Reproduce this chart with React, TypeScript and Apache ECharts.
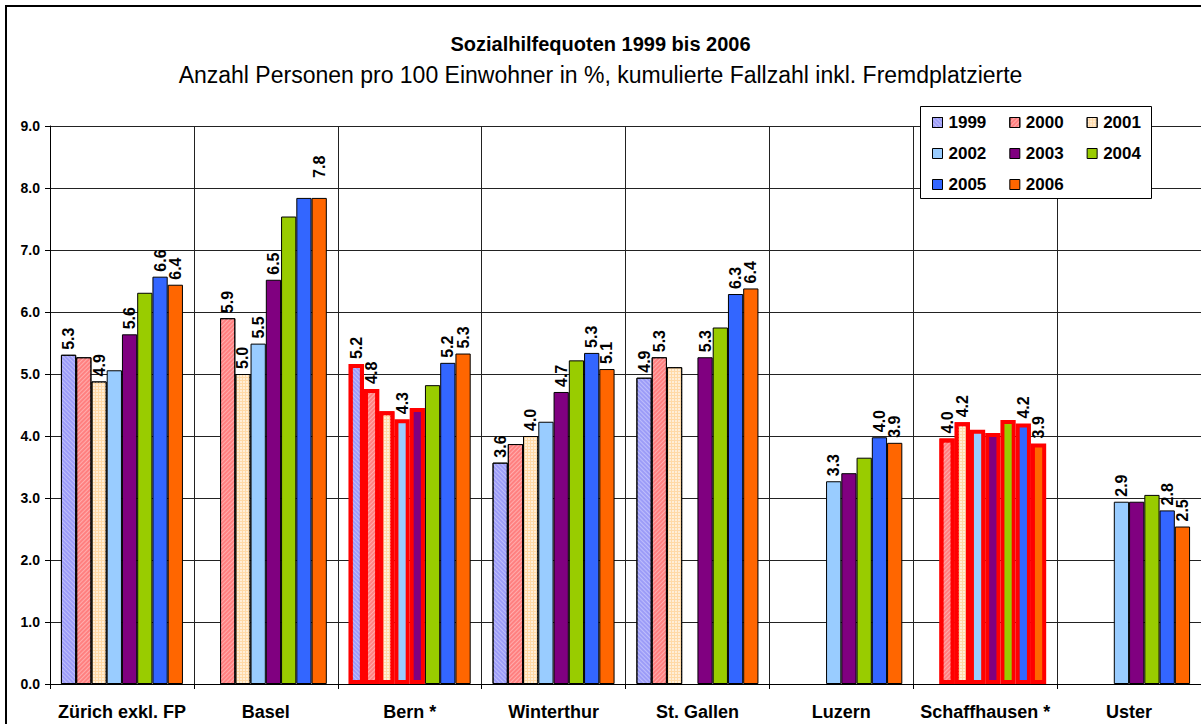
import React, { useEffect, useRef } from "react";
import * as echarts from "echarts";

const categories = ["Zürich exkl. FP", "Basel", "Bern *", "Winterthur", "St. Gallen", "Luzern", "Schaffhausen *", "Uster"];
const years = ["1999", "2000", "2001", "2002", "2003", "2004", "2005", "2006"];

const v1999 = [5.31, null, 5.16, 3.57, 4.94, null, null, null];
const v2000 = [5.27, 5.9, 4.76, 3.87, 5.27, null, 3.96, null];
const v2001 = [4.88, 5.0, 4.4, 4.0, 5.11, null, 4.22, null];
const v2002 = [5.06, 5.49, 4.27, 4.23, null, 3.27, 4.1, 2.94];
const v2003 = [5.64, 6.52, 4.45, 4.71, 5.27, 3.4, 4.05, 2.94];
const v2004 = [6.31, 7.54, 4.82, 5.22, 5.75, 3.65, 4.26, 3.05];
const v2005 = [6.57, 7.84, 5.18, 5.34, 6.29, 3.98, 4.2, 2.8];
const v2006 = [6.44, 7.84, 5.33, 5.08, 6.38, 3.89, 3.88, 2.54];
const values = [v1999, v2000, v2001, v2002, v2003, v2004, v2005, v2006];

// which years carry a value label, per category
const labelledYears = [
  ["1999", "2001", "2003", "2005", "2006"],
  ["2000", "2001", "2002", "2003", "2006"],
  ["1999", "2000", "2002", "2005", "2006"],
  ["1999", "2001", "2003", "2005", "2006"],
  ["1999", "2000", "2003", "2005", "2006"],
  ["2002", "2005", "2006"],
  ["2000", "2001", "2005", "2006"],
  ["2002", "2005", "2006"],
];
// bars outlined in red, per category
const redYears = [
  [],
  [],
  ["1999", "2000", "2001", "2002", "2003"],
  [],
  [],
  [],
  ["2000", "2001", "2002", "2003", "2004", "2005", "2006"],
  [],
];

const colors = ["#9C9CF8", "#FF8080", "#FFD9A6", "#99CCFF", "#800080", "#99CC00", "#3366FF", "#FF6600"];

const FONT = "Liberation Sans, Arial, sans-serif";

const decals: any[] = [
  { symbol: "rect", symbolSize: 1, color: "rgba(255,255,255,0.35)", dashArrayX: [[1, 0]], dashArrayY: [1, 2], rotation: Math.PI / 4 },
  { symbol: "rect", symbolSize: 1, color: "rgba(255,255,255,0.35)", dashArrayX: [[1, 0]], dashArrayY: [1, 2], rotation: -Math.PI / 4 },
  { symbol: "rect", symbolSize: 1, color: "rgba(255,255,255,0.55)", dashArrayX: [2, 1], dashArrayY: [2, 1], rotation: 0 },
  null,
  null,
  null,
  null,
  null,
];

export default function App() {
  const ref = useRef<HTMLDivElement>(null);
  useEffect(() => {
    if (!ref.current) return;
    const chart = echarts.init(ref.current, null, { renderer: "svg" });
    const series = years.map((y, si) => {
      const itemStyle: any = { color: colors[si], borderColor: "#000", borderWidth: 1 };
      if (decals[si]) itemStyle.decal = decals[si];
      return {
        name: y,
        type: "bar",
        barGap: "0%",
        barCategoryGap: "15.2%",
        itemStyle,
        label: {
          show: false,
          position: "top",
          rotate: 90,
          align: "left",
          verticalAlign: "middle",
          distance: 5,
          color: "#000",
          fontWeight: "bold",
          fontSize: 16,
          fontFamily: FONT,
          formatter: (p: any) => Number(p.value).toFixed(1),
        },
        data: values[si].map((v, ci) => {
          if (v === null) return null;
          const item: any = { value: v };
          if (labelledYears[ci].includes(y)) {
            item.label = { show: true };
            if (ci === 1 && y === "2006") item.label.distance = 20;
          }
          if (redYears[ci].includes(y)) {
            item.itemStyle = { borderColor: "#FF0000", borderWidth: 4 };
          }
          return item;
        }),
      };
    });
    const legendRows = [years.slice(0, 3), years.slice(3, 6), years.slice(6, 8)];
    const legendTops = [114, 145, 176];
    chart.setOption({
      animation: false,
      backgroundColor: "#fff",
      textStyle: { fontFamily: FONT },
      title: [
        {
          text: "Sozialhilfequoten 1999 bis 2006",
          left: "center",
          top: 29,
          textStyle: { fontSize: 20, fontWeight: "bold", color: "#000", fontFamily: FONT },
        },
        {
          text: "Anzahl Personen pro 100 Einwohner in %, kumulierte Fallzahl inkl. Fremdplatzierte",
          left: "center",
          top: 58,
          textStyle: { fontSize: 23, fontWeight: "normal", color: "#000", fontFamily: FONT },
        },
      ],
      legend: legendRows.map((row, i) => ({
        data: row,
        left: 932,
        top: legendTops[i],
        orient: "horizontal",
        itemWidth: 10,
        itemHeight: 10,
        itemGap: 23,
        padding: 0,
        icon: "rect",
        z: 10,
        selectedMode: false,
        textStyle: { fontSize: 17, fontWeight: "bold", color: "#000", fontFamily: FONT, padding: [0, 0, 0, 1] },
        itemStyle: { borderColor: "#000", borderWidth: 1 },
      })),
      graphic: [
        {
          type: "rect",
          shape: { x: 6, y: 6, width: 1300, height: 800 },
          style: { fill: "none", stroke: "#000", lineWidth: 2 },
          z: 1,
        },
        {
          type: "rect",
          shape: { x: 920.5, y: 106.5, width: 231, height: 92 },
          style: { fill: "#fff", stroke: "#000", lineWidth: 1 },
          z: 9,
        },
      ],
      grid: { left: 50, top: 126, width: 1155, height: 558, containLabel: false },
      xAxis: {
        type: "category",
        data: categories,
        axisLine: { show: true, lineStyle: { color: "#000", width: 1 } },
        axisTick: { show: true, length: 5, interval: 0, lineStyle: { color: "#000" } },
        splitLine: { show: true, interval: 0, lineStyle: { color: "#222", width: 1 } },
        axisLabel: { interval: 0, margin: 19, fontSize: 18, fontWeight: "bold", color: "#000", fontFamily: FONT },
      },
      yAxis: {
        type: "value",
        min: 0,
        max: 9,
        interval: 1,
        axisLine: { show: true, lineStyle: { color: "#000", width: 1 } },
        axisTick: { show: true, length: 5, lineStyle: { color: "#000" } },
        splitLine: { show: true, lineStyle: { color: "#222", width: 1 } },
        axisLabel: {
          margin: 10,
          fontSize: 14,
          fontWeight: "bold",
          color: "#000",
          fontFamily: FONT,
          formatter: (v: number) => v.toFixed(1),
        },
      },
      series,
    });
    return () => chart.dispose();
  }, []);
  return <div ref={ref} style={{ position: "fixed", left: 0, top: 0, width: 1201, height: 724 }} />;
}
